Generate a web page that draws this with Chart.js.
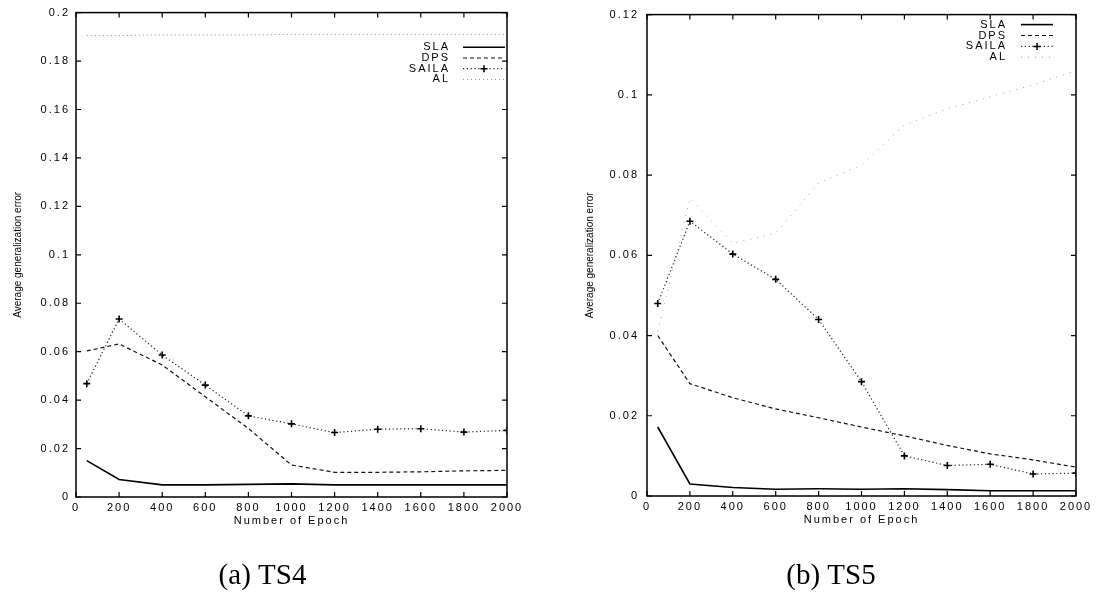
<!DOCTYPE html>
<html><head><meta charset="utf-8">
<script src="https://cdn.jsdelivr.net/npm/chart.js@4.4.0/dist/chart.umd.min.js"></script>
<style>
html,body{margin:0;padding:0;background:#fff;width:1098px;height:601px;overflow:hidden;}
canvas{position:absolute;top:0;}
#c1{left:0;} #c2{left:560px;}
</style></head><body>
<canvas id="c1" width="560" height="601"></canvas>
<canvas id="c2" width="538" height="601"></canvas>
<script>
// ---- data ----
const epochs = [50, 200, 400, 600, 800, 1000, 1200, 1400, 1600, 1800, 2000];
const xTickValues = [0, 200, 400, 600, 800, 1000, 1200, 1400, 1600, 1800, 2000];
const ts4YTicks = [0, 0.02, 0.04, 0.06, 0.08, 0.1, 0.12, 0.14, 0.16, 0.18, 0.2];
const ts5YTicks = [0, 0.02, 0.04, 0.06, 0.08, 0.1, 0.12];
const seriesNames = ['SLA', 'DPS', 'SAILA', 'AL'];

const ts4SLA   = [0.0150, 0.0072, 0.0050, 0.0050, 0.0052, 0.0054, 0.0050, 0.0050, 0.0050, 0.0050, 0.0050];
const ts4DPS   = [0.0603, 0.0632, 0.0545, 0.0414, 0.0283, 0.0132, 0.0102, 0.0102, 0.0104, 0.0108, 0.0110];
const ts4SAILA = [0.0468, 0.0735, 0.0586, 0.0462, 0.0335, 0.0302, 0.0266, 0.0280, 0.0282, 0.0268, 0.0275];
const ts4AL    = [0.1905, 0.1905, 0.1908, 0.1908, 0.1908, 0.1910, 0.1910, 0.1910, 0.1910, 0.1910, 0.1910];

const ts5SLA   = [0.0172, 0.0030, 0.0021, 0.0017, 0.0018, 0.0017, 0.0018, 0.0016, 0.0013, 0.0013, 0.0013];
const ts5DPS   = [0.0400, 0.0280, 0.0245, 0.0217, 0.0195, 0.0172, 0.0150, 0.0126, 0.0105, 0.0090, 0.0072];
const ts5SAILA = [0.0480, 0.0685, 0.0603, 0.0540, 0.0440, 0.0285, 0.0100, 0.0076, 0.0079, 0.0055, 0.0057];
const ts5AL    = [0.0410, 0.0742, 0.0630, 0.0655, 0.0780, 0.0825, 0.0925, 0.0965, 0.0995, 0.1025, 0.1060];

const xTitle = 'Number of Epoch';
const yTitle = 'Average generalization error';
const captions = ['(a) TS4', '(b) TS5'];

// ---- rendering ----
Chart.defaults.font.family = '"Liberation Sans", Arial, sans-serif';
Chart.defaults.font.size = 11;
Chart.defaults.color = '#000';

const SP = 2; // letter spacing of gnuplot-like text

const gp = {
  id: 'gp',
  beforeDraw(chart) { chart.ctx.letterSpacing = SP + 'px'; },
  afterDraw(chart, args, o) {
    const {ctx, chartArea: a, scales: {x, y}} = chart;
    ctx.save();
    ctx.setLineDash([]);
    ctx.strokeStyle = '#000';
    ctx.lineWidth = 1.5;
    ctx.strokeRect(a.left, a.top, a.right - a.left, a.bottom - a.top);
    ctx.lineWidth = 1.2;
    ctx.beginPath();
    y.ticks.forEach(t => {
      const p = y.getPixelForValue(t.value);
      ctx.moveTo(a.left, p); ctx.lineTo(a.left + 5, p);
      ctx.moveTo(a.right, p); ctx.lineTo(a.right - 5, p);
    });
    x.ticks.forEach(t => {
      const p = x.getPixelForValue(t.value);
      ctx.moveTo(p, a.bottom); ctx.lineTo(p, a.bottom - 5);
      ctx.moveTo(p, a.top); ctx.lineTo(p, a.top + 5);
    });
    ctx.stroke();

    // legend (gnuplot style, inside top-right)
    ctx.font = '11px "Liberation Sans", Arial, sans-serif';
    ctx.textAlign = 'right';
    ctx.textBaseline = 'middle';
    chart.data.datasets.forEach((ds, i) => {
      const yy = a.top + o.legendTop + i * o.legendStep;
      ctx.letterSpacing = SP + 'px';
      ctx.fillStyle = '#000';
      ctx.fillText(ds.label, a.right - o.legendTextRight + SP, yy);
      ctx.strokeStyle = ds.borderColor;
      ctx.lineWidth = ds.borderWidth;
      ctx.setLineDash(ds.borderDash || []);
      ctx.beginPath();
      ctx.moveTo(a.right - o.sampleFrom, yy);
      ctx.lineTo(a.right - o.sampleTo, yy);
      ctx.stroke();
      if (ds.pointStyle === 'cross') {
        const mx = a.right - (o.sampleFrom + o.sampleTo) / 2;
        ctx.setLineDash([]);
        ctx.strokeStyle = '#000';
        ctx.lineWidth = 1.5;
        ctx.beginPath();
        ctx.moveTo(mx - 3.5, yy); ctx.lineTo(mx + 3.5, yy);
        ctx.moveTo(mx, yy - 3.5); ctx.lineTo(mx, yy + 3.5);
        ctx.stroke();
      }
    });

    // y axis title
    ctx.letterSpacing = '0px';
    ctx.font = '10px "Liberation Sans", Arial, sans-serif';
    ctx.fillStyle = '#000';
    ctx.save();
    ctx.translate(o.yTitleX, (a.top + a.bottom) / 2);
    ctx.rotate(-Math.PI / 2);
    ctx.textAlign = 'center';
    ctx.fillText(o.yTitle, 0, 0);
    ctx.restore();

    // caption
    ctx.font = '29px "Liberation Serif", "Times New Roman", serif';
    ctx.fillStyle = '#000';
    ctx.textAlign = 'center';
    ctx.fillText(o.caption, o.captionX, o.captionY);
    ctx.restore();
  }
};

function lineDs(label, values, style) {
  return Object.assign({
    label,
    data: epochs.map((e, i) => ({x: e, y: values[i]})),
    fill: false,
    tension: 0,
    pointRadius: 0,
    pointHoverRadius: 0
  }, style);
}

const styles = {
  SLA:   {borderColor: '#000', borderWidth: 1.6},
  DPS:   {borderColor: '#111', borderWidth: 1.2, borderDash: [4, 3]},
  SAILA: {borderColor: '#222', borderWidth: 1.2, borderDash: [1.2, 2.6],
          pointStyle: 'cross', pointRadius: 3.5, pointBorderWidth: 1.6,
          pointBorderColor: '#000', pointBackgroundColor: '#000'},
  AL:    {borderColor: '#8a8a8a', borderWidth: 1, borderDash: [1, 3]}
};
const styles5 = Object.assign({}, styles, {
  AL: {borderColor: '#a0a0a0', borderWidth: 1, borderDash: [1, 6]}
});

function makeChart(id, series, st, yTicks, yMax, layoutPad, yWidth, yTickPad, gpOpts) {
  return new Chart(document.getElementById(id), {
    type: 'line',
    data: {
      datasets: seriesNames.map((n, i) => lineDs(n, series[i], st[n]))
    },
    options: {
      responsive: false,
      animation: false,
      events: [],
      layout: {padding: layoutPad},
      plugins: {legend: {display: false}, tooltip: {enabled: false}, gp: gpOpts},
      scales: {
        x: {
          type: 'linear', min: 0, max: 2000,
          grid: {display: false, drawTicks: false},
          border: {display: false},
          afterBuildTicks: s => { s.ticks = xTickValues.map(v => ({value: v})); },
          afterFit: s => { s.height = 45; },
          ticks: {padding: 4, maxRotation: 0, autoSkip: false, callback: v => String(v)},
          title: {display: true, text: xTitle, padding: {top: 0, bottom: 14}}
        },
        y: {
          type: 'linear', min: 0, max: yMax,
          grid: {display: false, drawTicks: false},
          border: {display: false},
          afterBuildTicks: s => { s.ticks = yTicks.map(v => ({value: v})); },
          afterFit: s => { s.width = yWidth; },
          ticks: {padding: yTickPad, autoSkip: false, callback: v => String(Math.round(v * 100) / 100)}
        }
      }
    },
    plugins: [gp]
  });
}

makeChart('c1', [ts4SLA, ts4DPS, ts4SAILA, ts4AL], styles, ts4YTicks, 0.2,
  {left: 0, top: 12, right: 53, bottom: 59}, 76, 6,
  {legendTop: 34.7, legendStep: 10.7, legendTextRight: 59, sampleFrom: 44, sampleTo: 2,
   yTitle, yTitleX: 18, caption: captions[0], captionX: 262.5, captionY: 576});

makeChart('c2', [ts5SLA, ts5DPS, ts5SAILA, ts5AL], styles5, ts5YTicks, 0.12,
  {left: 0, top: 9, right: 22, bottom: 60}, 87, 8,
  {legendTop: 10, legendStep: 10.9, legendTextRight: 71, sampleFrom: 55, sampleTo: 23,
   yTitle, yTitleX: 30, caption: captions[1], captionX: 271, captionY: 576});
</script>
</body></html>
